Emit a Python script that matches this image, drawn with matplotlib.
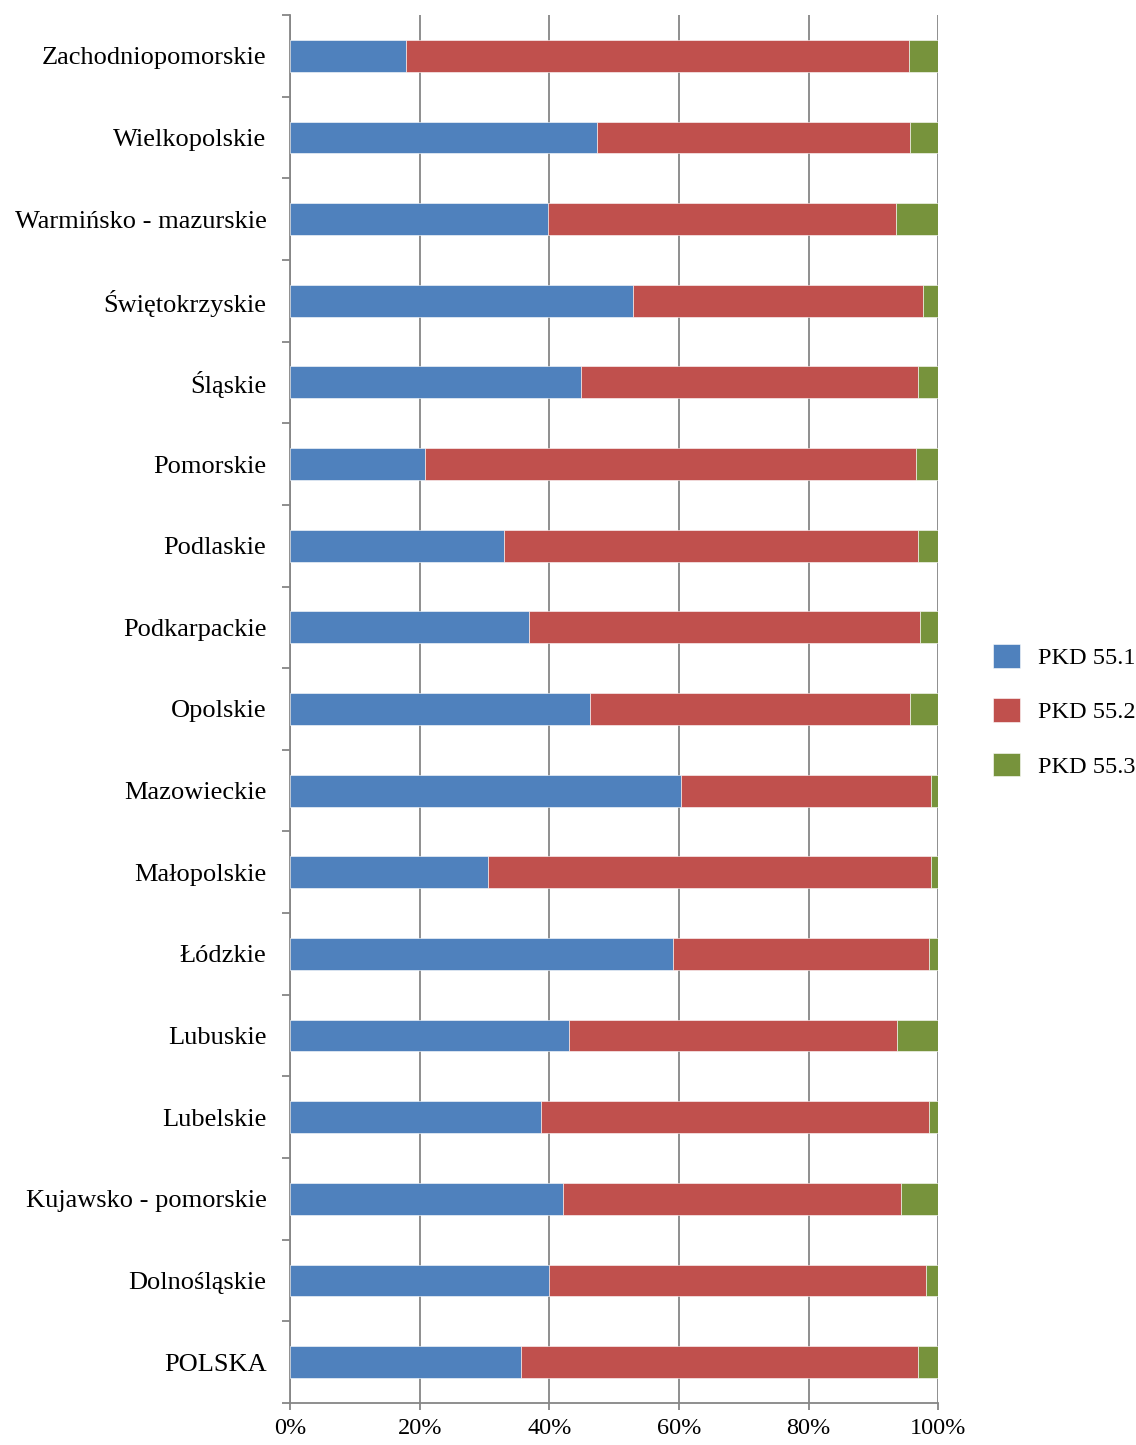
import matplotlib.pyplot as plt
import numpy as np

plt.rcParams['font.family'] = ['Liberation Serif', 'DejaVu Serif']

# Województwa (od dołu wykresu do góry)
regions = ['POLSKA', 'Dolnośląskie', 'Kujawsko - pomorskie', 'Lubelskie', 'Lubuskie',
           'Łódzkie', 'Małopolskie', 'Mazowieckie', 'Opolskie', 'Podkarpackie',
           'Podlaskie', 'Pomorskie', 'Śląskie', 'Świętokrzyskie',
           'Warmińsko - mazurskie', 'Wielkopolskie', 'Zachodniopomorskie']

# Udziały procentowe
pkd_551 = [35.6, 40.0, 42.1, 38.7, 43.1, 59.1, 30.6, 60.3, 46.3, 36.9,
           33.0, 20.8, 44.9, 52.9, 39.8, 47.4, 17.9]
pkd_552 = [61.2, 58.1, 52.2, 59.9, 50.6, 39.5, 68.2, 38.5, 49.4, 60.3,
           63.9, 75.7, 51.9, 44.8, 53.6, 48.3, 77.6]
pkd_553 = [3.2, 1.9, 5.7, 1.4, 6.3, 1.4, 1.2, 1.2, 4.3, 2.8,
           3.1, 3.5, 3.2, 2.3, 6.6, 4.3, 4.5]

series = [('PKD 55.1', pkd_551, '#4F81BD'),
          ('PKD 55.2', pkd_552, '#C0504D'),
          ('PKD 55.3', pkd_553, '#77933C')]

grey = '#868686'

fig = plt.figure(figsize=(11.36, 14.45), dpi=100)
ax = fig.add_axes([0.2553, 0.0291, 0.8260 - 0.2553, 0.9896 - 0.0291])

y = np.arange(len(regions))
left = np.zeros(len(regions))
for name, vals, color in series:
    vals = np.array(vals)
    ax.barh(y, vals, left=left, height=0.39, color=color, label=name,
            edgecolor='white', linewidth=0.4, zorder=3)
    left += vals

ax.set_xlim(0, 100)
ax.set_ylim(-0.5, len(regions) - 0.5)

ax.set_xticks(np.arange(0, 101, 20))
ax.set_xticklabels([f'{v}%' for v in range(0, 101, 20)], fontsize=17.5)
ax.xaxis.grid(True, color=grey, linewidth=1.3, zorder=0)

ax.set_yticks(y)
ax.set_yticklabels(regions, fontsize=19)
ax.set_yticks(np.arange(-0.5, len(regions), 1), minor=True)
ax.tick_params(axis='y', which='major', length=0, pad=17)
ax.tick_params(axis='y', which='minor', length=6, width=1.3, color=grey)
ax.tick_params(axis='x', which='major', length=5, width=1.3, color=grey, pad=6)

for s in ['top', 'right']:
    ax.spines[s].set_visible(False)
for s in ['left', 'bottom']:
    ax.spines[s].set_color(grey)
    ax.spines[s].set_linewidth(1.3)

fig.legend(loc='center left', bbox_to_anchor=(0.855, 0.508), frameon=False,
           fontsize=17.5, handlelength=1.1, handleheight=1.1,
           labelspacing=1.2, handletextpad=0.76)

plt.savefig('out.png', dpi=100)
